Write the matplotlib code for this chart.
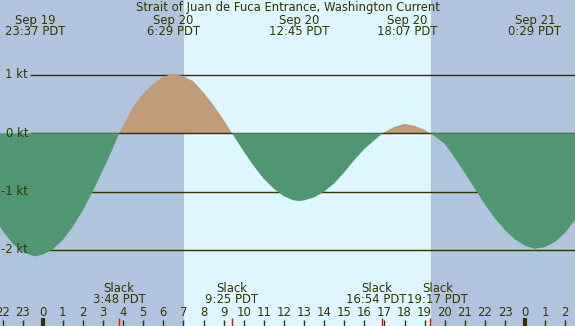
import matplotlib
matplotlib.use("Agg")
import matplotlib.pyplot as plt
import numpy as np

# ---------------- data (hours since Sep 20 00:00 PDT, knots) ----------------
hours = [-2.5, -2.0, -1.5, -1.0, -0.5, -0.38, 0.0, 0.5, 1.0, 1.5, 2.0, 2.5, 3.0,
         3.5, 3.8, 4.0, 4.5, 5.0, 5.5, 6.0, 6.48, 7.0, 7.5, 8.0, 8.5, 9.0, 9.42,
         9.5, 10.0, 10.5, 11.0, 11.5, 12.0, 12.5, 12.75, 13.0, 13.5, 14.0, 14.5,
         15.0, 15.5, 16.0, 16.5, 16.9, 17.5, 18.0, 18.5, 19.0, 19.28, 19.5,
         20.0, 20.5, 21.0, 21.5, 22.0, 22.5, 23.0, 23.5, 24.0, 24.48, 25.0,
         25.5, 26.0, 26.5]
speed = [-1.38, -1.67, -1.89, -2.03, -2.10, -2.11, -2.08, -1.99, -1.83, -1.60,
         -1.32, -0.99, -0.63, -0.25, 0.0, 0.13, 0.46, 0.68, 0.85, 0.97, 1.02,
         0.98, 0.89, 0.70, 0.48, 0.23, 0.0, -0.04, -0.31, -0.56, -0.78, -0.95,
         -1.08, -1.15, -1.16, -1.15, -1.10, -1.00, -0.86, -0.67, -0.46, -0.27,
         -0.12, 0.0, 0.11, 0.16, 0.13, 0.06, 0.0, -0.05, -0.18, -0.42, -0.68,
         -0.95, -1.22, -1.46, -1.66, -1.82, -1.93, -1.98, -1.95, -1.86, -1.70,
         -1.48]

title = "Strait of Juan de Fuca Entrance, Washington Current"
extreme_hours = [-0.383, 6.483, 12.75, 18.117, 24.483]
extreme_dates = ["Sep 19", "Sep 20", "Sep 20", "Sep 20", "Sep 21"]
extreme_times = ["23:37 PDT", "6:29 PDT", "12:45 PDT", "18:07 PDT", "0:29 PDT"]

slack_hours = [3.8, 9.417, 16.9, 19.283]
slack_times = ["3:48 PDT", "9:25 PDT", "16:54 PDT", "19:17 PDT"]

sunrise, sunset = 7.03, 19.32

level_values = [1, 0, -1, -2]
level_labels = ["1 kt", "0 kt", "-1 kt", "-2 kt"]

hour_ticks = list(range(-2, 27))
hour_labels = ["22", "23", "0", "1", "2", "3", "4", "5", "6", "7", "8", "9",
               "10", "11", "12", "13", "14", "15", "16", "17", "18", "19", "20",
               "21", "22", "23", "0", "1", "2"]
midnights = [0, 24]

# ---------------- styling ----------------
W, H = 575, 326
X0, PXH = 42.7, 20.1          # pixel of hour 0, pixels per hour
Y0, PXK = 133.3, 58.33        # pixel row of 0 kt, pixels per knot
NIGHT = "#b0c4de"
DAY = "#ddf6ff"
EBB = "#509672"
FLOOD = "#bf9b7a"
INK = "#333300"
FONT = "DejaVu Sans"
FS = 8.4

def hx(px):
    return (px - X0) / PXH

def ky(py):
    return (Y0 - py) / PXK

fig = plt.figure(figsize=(W / 100, H / 100), dpi=100)
ax = fig.add_axes([0, 0, 1, 1])
ax.set_xlim(hx(0), hx(W))
ax.set_ylim(ky(H), ky(0))
ax.axis("off")
ax.set_facecolor(NIGHT)
fig.patch.set_facecolor(NIGHT)
ax.add_patch(plt.Rectangle((hx(0), ky(H)), hx(W) - hx(0), ky(0) - ky(H),
                           color=NIGHT, zorder=0))
ax.axvspan(sunrise, sunset, color=DAY, zorder=0.5, lw=0)

h = np.array(hours)
s = np.array(speed)

# grid lines
for lv, lab in zip(level_values, level_labels):
    ax.hlines(lv, hx(30), hx(W), color=INK, lw=1.0, zorder=1 if lv != 0 else 3)
    ax.text(hx(28), lv, lab, ha="right", va="center", color=INK,
            fontsize=FS, family=FONT, zorder=6)

ax.fill_between(h, s, 0, where=s >= 0, interpolate=True, color=FLOOD, lw=0,
                zorder=2)
ax.fill_between(h, s, 0, where=s <= 0, interpolate=True, color=EBB, lw=0,
                zorder=4)

# title and extreme labels
fig.text(0.5, 1 - 8 / H, title, ha="center", va="center", color=INK,
         fontsize=FS, family=FONT)
for eh, d, t in zip(extreme_hours, extreme_dates, extreme_times):
    ax.text(eh, ky(20), d, ha="center", va="center", color=INK, fontsize=FS,
            family=FONT, zorder=6)
    ax.text(eh, ky(31.5), t, ha="center", va="center", color=INK, fontsize=FS,
            family=FONT, zorder=6)

# slack labels
slack_shift = [0, 0, -6, 7]
for sh, t, dx in zip(slack_hours, slack_times, slack_shift):
    xx = sh + dx / PXH
    ax.text(xx, ky(288), "Slack", ha="center", va="center", color=INK,
            fontsize=FS, family=FONT, zorder=6)
    ax.text(xx, ky(299.5), t, ha="center", va="center", color=INK,
            fontsize=FS, family=FONT, zorder=6)
    ax.vlines(sh, ky(H), ky(318), color="red", lw=1.0, zorder=6)

# hour ticks
for tk, lab in zip(hour_ticks, hour_labels):
    ax.text(tk, ky(312), lab, ha="center", va="center", color=INK,
            fontsize=FS, family=FONT, zorder=6)
    if tk in midnights:
        ax.vlines(tk, ky(H), ky(318), color=INK, lw=3.0, zorder=6)
    else:
        ax.vlines(tk, ky(H), ky(320), color=INK, lw=1.0, zorder=6)

fig.savefig("out.png", dpi=100, facecolor=NIGHT)
